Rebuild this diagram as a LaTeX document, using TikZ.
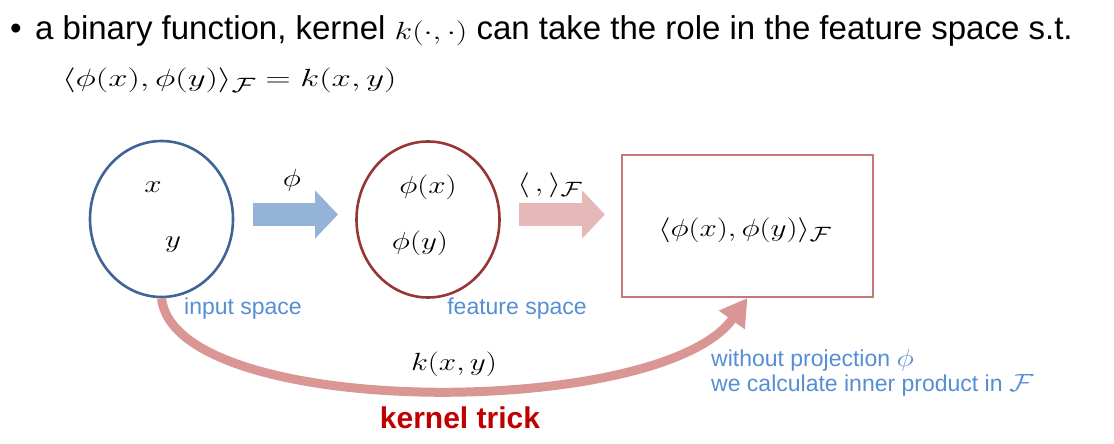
\documentclass[tikz,border=0pt]{standalone}
\usepackage{fontspec}
\usepackage{amsmath,amssymb}
\usepackage{graphicx}
\setmainfont{Liberation Sans}
\usetikzlibrary{arrows.meta,shapes.geometric}
\definecolor{cblue}{RGB}{65,100,150}
\definecolor{cbluearrow}{RGB}{149,179,215}
\definecolor{cred}{RGB}{150,55,53}
\definecolor{cpink}{RGB}{230,184,183}
\definecolor{cbox}{RGB}{195,120,118}
\definecolor{ccurve}{RGB}{217,150,148}
\definecolor{ctext}{RGB}{85,142,213}
\definecolor{ctrick}{RGB}{192,0,0}
\newcommand{\wm}[2][1.25]{\scalebox{#1}[1]{$#2$}}
\tikzset{
  body/.style={font=\fontsize{33}{38}\selectfont},
  mth/.style={font=\fontsize{29}{33}\selectfont, inner sep=0pt},
  lbl/.style={font=\fontsize{23}{27}\selectfont, text=ctext, inner sep=0pt},
  space/.style={ellipse, line width=2.6pt, minimum width=143pt, minimum height=156pt, inner sep=0pt},
  blockarrow/.style={line width=23pt, -{Triangle[length=23pt,width=47pt]}},
}
\begin{document}
\begin{tikzpicture}[x=1pt,y=-1pt]
\useasboundingbox (0,0) rectangle (1114,444);
% header
\node[body, anchor=base west, inner sep=0pt] (bul) at (10,40) {•};
\node[body, anchor=base west, inner sep=0pt] (line1) at (35,40) {a binary function, kernel \wm[1.3]{k(\cdot,\cdot)} can take the role in the feature space s.t.};
\node[mth, anchor=base west] (line2) at (62,87) {\wm[1.4]{\langle\phi(x),\phi(y)\rangle_{\mathcal{F}}=k(x,y)}};
% spaces
\node[space, draw=cblue] (in) at (161.5,219) {};
\node[space, draw=cred] (feat) at (428,219.5) {};
\node[draw=cbox, line width=2pt, minimum width=251pt, minimum height=142pt, inner sep=0pt] (box) at (747.5,226) {};
% contents
\node[mth] (x) at (153,187) {\wm{x}};
\node[mth] (y) at (173,245) {\wm{y}};
\node[mth] (px) at (428,187) {\wm{\phi(x)}};
\node[mth] (py) at (420,243) {\wm{\phi(y)}};
\node[mth] (ip) at (745,230) {\wm{\langle\phi(x),\phi(y)\rangle_{\mathcal{F}}}};
% block arrows
\coordinate (a1s) at (253,214.5);
\coordinate (a1e) at (338,214.5);
\coordinate (a2s) at (519,214.5);
\coordinate (a2e) at (605,214.5);
\draw[blockarrow, cbluearrow] (a1s) -- (a1e);
\draw[blockarrow, cpink] (a2s) -- (a2e);
\node[mth] (phil) at (292,180) {\wm{\phi}};
\node[mth] (ipl) at (550,185) {\wm{\langle\,,\rangle_{\mathcal{F}}}};
% labels
\node[lbl] (inl) at (243,309) {input space};
\node[lbl] (featl) at (517,309) {feature space};
% kernel trick curve
\draw[ccurve, line width=9pt, -{Triangle[length=27pt,width=30pt]}] (in.south) .. controls (175,420) and (660,420) .. (box.south);
\node[mth] (k) at (454,364) {\wm{k(x,y)}};
\node[font=\fontsize{30}{34}\selectfont\bfseries, text=ctrick, inner sep=0pt] (trick) at (460,418) {kernel trick};
\node[lbl, anchor=north west, align=left] (note) at (711,349) {without projection \wm[1.2]{\phi}\\[-2pt] we calculate inner product in \wm[1.2]{\mathcal{F}}};
\end{tikzpicture}
\end{document}
